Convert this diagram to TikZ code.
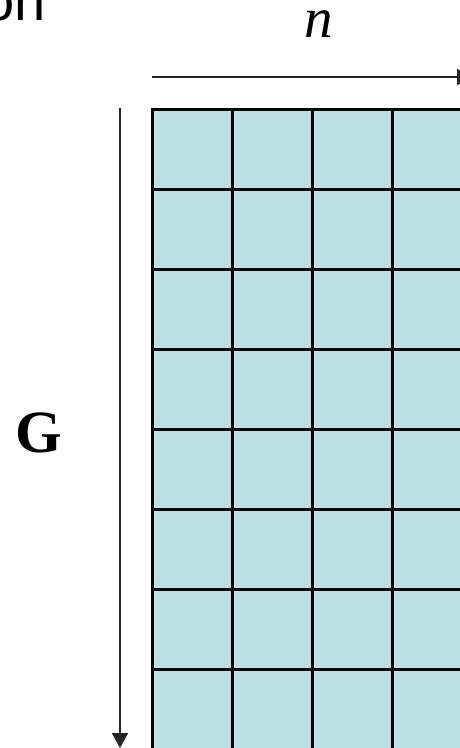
\documentclass[tikz,border=0pt]{standalone}
\usepackage{fontspec}
\setmainfont{Liberation Serif}
\newfontfamily\arialfont{Liberation Sans}
\usetikzlibrary{arrows.meta}
\definecolor{cellfill}{RGB}{188,224,227}
\tikzset{
  cell/.style={draw=black, line width=3pt, fill=cellfill, minimum width=80pt, minimum height=80pt, inner sep=0pt, anchor=center},
  axisarrow/.style={line width=2pt, draw=black!85, -{Triangle[width=16pt,length=15pt]}},
}
\begin{document}
\begin{tikzpicture}[x=1pt,y=-1pt]
\useasboundingbox (0,0) rectangle (460,748);
\foreach \r in {0,...,7}{
  \foreach \c in {0,...,3}{
    \node[cell] (c\r\c) at ({192+80*\c},{149+80*\r}) {};
  }
}
\coordinate (hs) at (152,77);
\coordinate (he) at (472,77);
\coordinate (vs) at (120,108);
\coordinate (ve) at (120,748);
\draw[axisarrow] (hs) -- (he);
\draw[axisarrow] (vs) -- (ve);
\node[anchor=base, inner sep=0pt, text height=27pt, text depth=0pt, font=\fontsize{57}{60}\selectfont\itshape] (nlab) at (319,37) {n};
\node[anchor=base, inner sep=0pt, font=\fontsize{60}{62}\selectfont\bfseries] (glab) at (39,452) {G};
\node[anchor=base east, inner sep=0pt, font=\fontsize{56}{58}\selectfont\arialfont] (onlab) at (46,20) {on};
\end{tikzpicture}
\end{document}
